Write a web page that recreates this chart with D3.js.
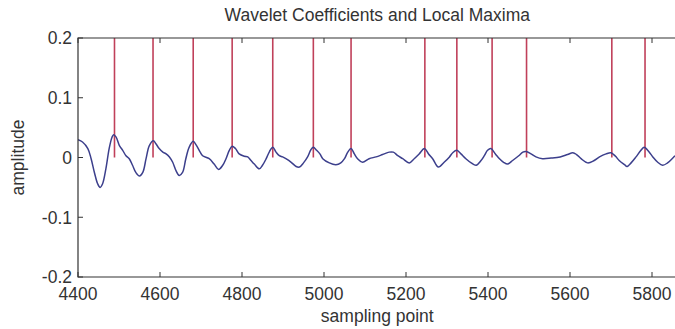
<!DOCTYPE html>
<html>
<head>
<meta charset="utf-8">
<script src="https://cdn.jsdelivr.net/npm/d3@7"></script>
<style>
  html, body { margin: 0; padding: 0; background: #fff; overflow: hidden; }
  text { font-family: "Liberation Sans", Arial, sans-serif; fill: #333; }
</style>
</head>
<body>
<div id="chart"></div>
<script>
let samplePoints = [4400,4411,4424,4432,4440,4448,4454,4460,4468,4476,4483,4487,4493,4501,4509,4517,4525,4533,4541,4550,
  4558,4566,4574,4584,4590,4598,4607,4615,4623,4631,4639,4647,4655,4663,4671,4681,4688,4698,4704,4720,
  4732,4743,4753,4761,4769,4776,4784,4793,4806,4814,4822,4830,4842,4850,4859,4867,4875,4883,4891,4899,
  4907,4920,4932,4940,4950,4960,4968,4974,4982,4990,4997,5013,5029,5041,5050,5058,5066,5074,5082,5094,
  5110,5127,5143,5159,5169,5180,5192,5208,5220,5232,5245,5255,5265,5279,5293,5306,5314,5324,5334,5346,
  5359,5371,5383,5391,5399,5407,5418,5428,5438,5448,5460,5475,5485,5493,5505,5517,5533,5554,5576,5594,
  5607,5616,5627,5643,5659,5672,5688,5700,5711,5720,5733,5739,5749,5761,5773,5781,5792,5802,5814,5826,
  5838,5856];
let amplitude = [0.030,0.026,0.015,-0.002,-0.025,-0.044,-0.050,-0.044,-0.019,0.015,0.034,0.038,0.034,0.020,0.012,0.003,-0.002,-0.013,-0.025,-0.031,
  -0.025,-0.002,0.020,0.028,0.023,0.015,0.009,0.006,0.001,-0.008,-0.022,-0.030,-0.025,-0.002,0.017,0.027,0.021,0.009,0.003,-0.002,
  -0.011,-0.020,-0.013,-0.002,0.012,0.019,0.015,0.006,0.002,0.001,-0.005,-0.011,-0.019,-0.013,-0.002,0.010,0.017,0.009,0.003,0.001,
  -0.002,-0.008,-0.015,-0.016,-0.009,0.001,0.013,0.017,0.012,0.006,-0.002,-0.009,-0.012,-0.009,-0.002,0.009,0.015,0.006,-0.002,-0.008,
  -0.002,0.001,0.005,0.009,0.009,0.003,-0.002,-0.009,-0.002,0.006,0.015,0.006,-0.002,-0.016,-0.008,0.001,0.008,0.012,0.006,-0.002,
  -0.009,-0.013,-0.005,0.003,0.012,0.015,0.006,-0.002,-0.008,-0.011,-0.005,0.003,0.009,0.010,0.006,0.001,-0.002,-0.001,0.001,0.005,
  0.008,0.005,-0.002,-0.009,-0.005,0.001,0.006,0.008,0.002,-0.005,-0.012,-0.015,-0.009,0.001,0.012,0.017,0.010,0.001,-0.008,-0.013,
  -0.009,0.003];
// positions of the detected local maxima
let maximaPos = [4489, 4583, 4681, 4776, 4875, 4974, 5066, 5246, 5324, 5410, 5494, 5702, 5783];

let xTicks = [4400, 4600, 4800, 5000, 5200, 5400, 5600, 5800];
let yTicks = [-0.2, -0.1, 0, 0.1, 0.2];
let yTickLabels = ['-0.2', '-0.1', '0', '0.1', '0.2'];

let config = {
  width: 675,
  height: 329,
  left: 78,
  top: 38,
  bottom: 277,
  xMin: 4400,
  xMax: 5860,
  pxPerUnit: 0.41,
  tickLen: 5,
  fontSize: 17.5
};

let right = config.left + (config.xMax - config.xMin) * config.pxPerUnit;

let x = d3.scaleLinear().domain([config.xMin, config.xMax]).range([config.left, right]);
let y = d3.scaleLinear().domain([-0.2, 0.2]).range([config.bottom, config.top]);

let svg = d3.select('#chart').append('svg')
  .attr('width', config.width)
  .attr('height', config.height);

svg.append('clipPath').attr('id', 'plotclip')
  .append('rect')
  .attr('x', config.left).attr('y', config.top)
  .attr('width', right - config.left).attr('height', config.bottom - config.top);

let plot = svg.append('g').attr('clip-path', 'url(#plotclip)');

// red stems at each local maximum, from zero to the top of the axes
plot.selectAll('line.maxima')
  .data(maximaPos)
  .enter().append('line')
  .attr('class', 'maxima')
  .attr('x1', d => x(d)).attr('x2', d => x(d))
  .attr('y1', y(0)).attr('y2', y(0.2))
  .attr('stroke', '#c0405a')
  .attr('stroke-width', 1.6);

let line = d3.line()
  .x(d => x(d[0]))
  .y(d => y(d[1]))
  .curve(d3.curveCatmullRom);

plot.append('path')
  .datum(d3.zip(samplePoints, amplitude))
  .attr('d', line)
  .attr('fill', 'none')
  .attr('stroke', '#3c3f8c')
  .attr('stroke-width', 1.5);

// axes box (MATLAB style, ticks pointing inward)
let axisColor = '#333';
svg.append('path')
  .attr('d', `M${right},${config.top}H${config.left}V${config.bottom}H${right}V${config.top}`)
  .attr('fill', 'none')
  .attr('stroke', axisColor)
  .attr('stroke-width', 1.2);

let xt = svg.append('g').selectAll('g').data(xTicks).enter().append('g');
xt.append('line')
  .attr('x1', d => x(d)).attr('x2', d => x(d))
  .attr('y1', config.bottom).attr('y2', config.bottom - config.tickLen)
  .attr('stroke', axisColor);
xt.append('line')
  .attr('x1', d => x(d)).attr('x2', d => x(d))
  .attr('y1', config.top).attr('y2', config.top + config.tickLen)
  .attr('stroke', axisColor);
xt.append('text')
  .attr('x', d => x(d))
  .attr('y', 300)
  .attr('text-anchor', 'middle')
  .attr('font-size', config.fontSize)
  .text(d => d);

let yt = svg.append('g').selectAll('g').data(yTicks).enter().append('g');
yt.append('line')
  .attr('x1', config.left).attr('x2', config.left + config.tickLen)
  .attr('y1', d => y(d)).attr('y2', d => y(d))
  .attr('stroke', axisColor);
yt.append('text')
  .attr('x', 72)
  .attr('y', d => y(d))
  .attr('dy', '0.36em')
  .attr('text-anchor', 'end')
  .attr('font-size', config.fontSize)
  .text((d, i) => yTickLabels[i]);

svg.append('text')
  .attr('x', (config.left + right) / 2)
  .attr('y', 21)
  .attr('text-anchor', 'middle')
  .attr('font-size', config.fontSize)
  .text('Wavelet Coefficients and Local Maxima');

svg.append('text')
  .attr('x', (config.left + right) / 2)
  .attr('y', 322)
  .attr('text-anchor', 'middle')
  .attr('font-size', config.fontSize)
  .text('sampling point');

svg.append('text')
  .attr('transform', `translate(24,${(config.top + config.bottom) / 2}) rotate(-90)`)
  .attr('text-anchor', 'middle')
  .attr('font-size', config.fontSize)
  .text('amplitude');
</script>
</body>
</html>
